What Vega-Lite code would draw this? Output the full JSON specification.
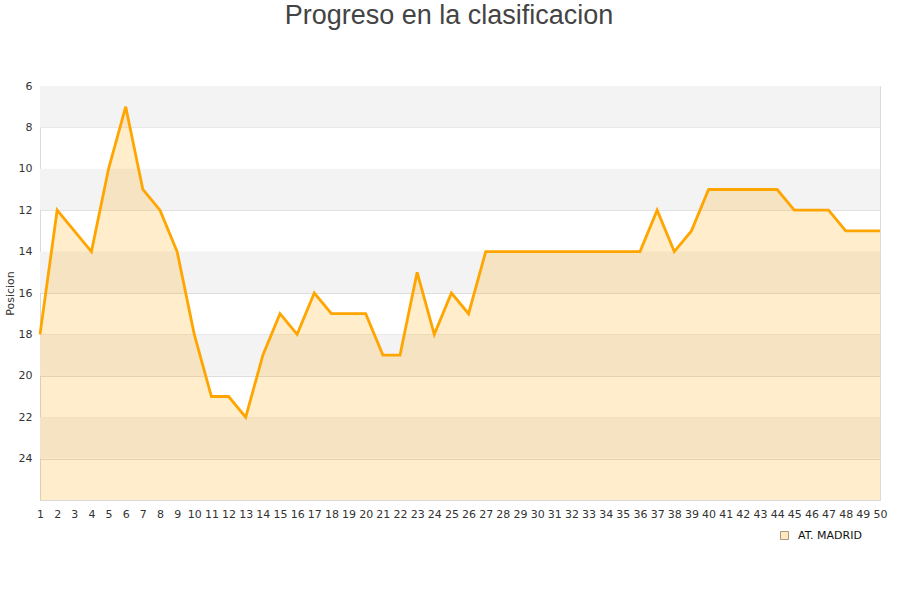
{
  "$schema": "https://vega.github.io/schema/vega-lite/v6.json",
  "width": 840,
  "height": 414,
  "autosize": {"type": "none"},
  "padding": {"left": 40, "top": 86, "right": 20, "bottom": 100},
  "background": "white",
  "title": {
    "text": "Progreso en la clasificacion",
    "anchor": "middle",
    "frame": "group",
    "font": "Liberation Sans",
    "fontSize": 27,
    "fontWeight": "normal",
    "color": "#444444",
    "offset": 50,
    "dx": -11
  },
  "config": {
    "view": {"stroke": "#d9d9d9", "strokeWidth": 1},
    "axis": {
      "labelFont": "DejaVu Sans",
      "labelFontSize": 11,
      "labelColor": "#333333",
      "titleFont": "DejaVu Sans",
      "titleFontWeight": "normal",
      "titleColor": "#333333",
      "titleFontSize": 11
    }
  },
  "datasets": {
    "bands": [
      {"y0": 6, "y1": 8},
      {"y0": 10, "y1": 12},
      {"y0": 14, "y1": 16},
      {"y0": 18, "y1": 20},
      {"y0": 22, "y1": 24}
    ],
    "pos": [
      {"jornada": 1, "posicion": 18, "equipo": "AT. MADRID"},
      {"jornada": 2, "posicion": 12, "equipo": "AT. MADRID"},
      {"jornada": 3, "posicion": 13, "equipo": "AT. MADRID"},
      {"jornada": 4, "posicion": 14, "equipo": "AT. MADRID"},
      {"jornada": 5, "posicion": 10, "equipo": "AT. MADRID"},
      {"jornada": 6, "posicion": 7, "equipo": "AT. MADRID"},
      {"jornada": 7, "posicion": 11, "equipo": "AT. MADRID"},
      {"jornada": 8, "posicion": 12, "equipo": "AT. MADRID"},
      {"jornada": 9, "posicion": 14, "equipo": "AT. MADRID"},
      {"jornada": 10, "posicion": 18, "equipo": "AT. MADRID"},
      {"jornada": 11, "posicion": 21, "equipo": "AT. MADRID"},
      {"jornada": 12, "posicion": 21, "equipo": "AT. MADRID"},
      {"jornada": 13, "posicion": 22, "equipo": "AT. MADRID"},
      {"jornada": 14, "posicion": 19, "equipo": "AT. MADRID"},
      {"jornada": 15, "posicion": 17, "equipo": "AT. MADRID"},
      {"jornada": 16, "posicion": 18, "equipo": "AT. MADRID"},
      {"jornada": 17, "posicion": 16, "equipo": "AT. MADRID"},
      {"jornada": 18, "posicion": 17, "equipo": "AT. MADRID"},
      {"jornada": 19, "posicion": 17, "equipo": "AT. MADRID"},
      {"jornada": 20, "posicion": 17, "equipo": "AT. MADRID"},
      {"jornada": 21, "posicion": 19, "equipo": "AT. MADRID"},
      {"jornada": 22, "posicion": 19, "equipo": "AT. MADRID"},
      {"jornada": 23, "posicion": 15, "equipo": "AT. MADRID"},
      {"jornada": 24, "posicion": 18, "equipo": "AT. MADRID"},
      {"jornada": 25, "posicion": 16, "equipo": "AT. MADRID"},
      {"jornada": 26, "posicion": 17, "equipo": "AT. MADRID"},
      {"jornada": 27, "posicion": 14, "equipo": "AT. MADRID"},
      {"jornada": 28, "posicion": 14, "equipo": "AT. MADRID"},
      {"jornada": 29, "posicion": 14, "equipo": "AT. MADRID"},
      {"jornada": 30, "posicion": 14, "equipo": "AT. MADRID"},
      {"jornada": 31, "posicion": 14, "equipo": "AT. MADRID"},
      {"jornada": 32, "posicion": 14, "equipo": "AT. MADRID"},
      {"jornada": 33, "posicion": 14, "equipo": "AT. MADRID"},
      {"jornada": 34, "posicion": 14, "equipo": "AT. MADRID"},
      {"jornada": 35, "posicion": 14, "equipo": "AT. MADRID"},
      {"jornada": 36, "posicion": 14, "equipo": "AT. MADRID"},
      {"jornada": 37, "posicion": 12, "equipo": "AT. MADRID"},
      {"jornada": 38, "posicion": 14, "equipo": "AT. MADRID"},
      {"jornada": 39, "posicion": 13, "equipo": "AT. MADRID"},
      {"jornada": 40, "posicion": 11, "equipo": "AT. MADRID"},
      {"jornada": 41, "posicion": 11, "equipo": "AT. MADRID"},
      {"jornada": 42, "posicion": 11, "equipo": "AT. MADRID"},
      {"jornada": 43, "posicion": 11, "equipo": "AT. MADRID"},
      {"jornada": 44, "posicion": 11, "equipo": "AT. MADRID"},
      {"jornada": 45, "posicion": 12, "equipo": "AT. MADRID"},
      {"jornada": 46, "posicion": 12, "equipo": "AT. MADRID"},
      {"jornada": 47, "posicion": 12, "equipo": "AT. MADRID"},
      {"jornada": 48, "posicion": 13, "equipo": "AT. MADRID"},
      {"jornada": 49, "posicion": 13, "equipo": "AT. MADRID"},
      {"jornada": 50, "posicion": 13, "equipo": "AT. MADRID"}
    ]
  },
  "layer": [
    {
      "data": {"name": "bands"},
      "mark": {"type": "rect", "color": "#f3f3f3"},
      "encoding": {
        "y": {"field": "y0", "type": "quantitative", "scale": {"domain": [6, 26], "reverse": true, "zero": false, "nice": false}},
        "y2": {"field": "y1"}
      }
    },
    {
      "data": {"name": "pos"},
      "mark": {"type": "area", "fillOpacity": 0.2, "interpolate": "linear"},
      "encoding": {
        "x": {
          "field": "jornada", "type": "ordinal",
          "scale": {"type": "point", "padding": 0},
          "axis": {"title": null, "grid": false, "ticks": false, "domain": false, "labelPadding": 8, "labelAngle": 0, "labelOverlap": false}
        },
        "y": {
          "field": "posicion", "type": "quantitative",
          "scale": {"domain": [6, 26], "reverse": true, "zero": false, "nice": false},
          "axis": {"values": [6,8,10,12,14,16,18,20,22,24], "title": "Posicion", "titleX": -25, "grid": true, "gridColor": "#dddddd", "ticks": false, "domainColor": "#d9d9d9", "labelPadding": 8}
        },
        "y2": {"datum": 26},
        "fill": {
          "field": "equipo", "type": "nominal",
          "scale": {"range": ["#ffa500"]},
          "legend": {
            "title": null,
            "orient": "none",
            "legendX": 739,
            "legendY": 444,
            "symbolType": "square",
            "symbolSize": 64,
            "labelFont": "DejaVu Sans",
            "labelFontSize": 11,
            "labelColor": "#111111",
            "labelOffset": 8,
            "encode": {
              "symbols": {
                "update": {
                  "fillOpacity": {"value": 0.25},
                  "opacity": {"value": 1},
                  "stroke": {"value": "#a89880"},
                  "strokeWidth": {"value": 1}
                }
              }
            }
          }
        }
      }
    },
    {
      "data": {"name": "pos"},
      "mark": {"type": "line", "color": "#ffa500", "strokeWidth": 2.8},
      "encoding": {
        "x": {"field": "jornada", "type": "ordinal"},
        "y": {"field": "posicion", "type": "quantitative"}
      }
    }
  ]
}
